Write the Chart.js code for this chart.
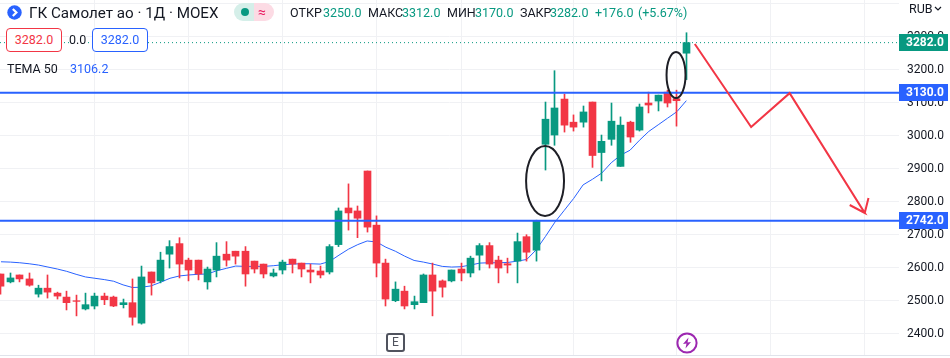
<!DOCTYPE html>
<html lang="ru">
<head>
    <meta charset="UTF-8">
    <title>ГК Самолет ао - MOEX</title>
    <script src="https://cdn.jsdelivr.net/npm/chart.js"></script>
    <style>
        html, body { margin: 0; padding: 0; background: #fff; }
        body { width: 950px; height: 358px; position: relative; overflow: hidden; font-family: Roboto, sans-serif; color: #131722; }
        #chart { position: absolute; left: 0; top: 0; }
        .t { position: absolute; white-space: nowrap; line-height: 16px; font-size: 12.5px; }
        .g { color: #089981; }
        .b { color: #2962ff; }
        .box { position: absolute; top: 28px; height: 22px; width: 54px; border: 1px solid; border-radius: 4px; background: #fff; text-align: center; line-height: 22px; font-size: 12.5px; }
        #bottomLine { position: absolute; left: 0; top: 355px; width: 950px; height: 1px; background: #e0e3eb; }
    </style>
</head>
<body>
    <canvas id="chart" width="950" height="358"></canvas>
    <div id="bottomLine"></div>

    <svg style="position:absolute;left:7px;top:5px" width="15" height="15" viewBox="0 0 15 15">
        <circle cx="7.5" cy="7.5" r="7.2" fill="#2962ff"/>
        <path d="M5.8 4 L9.4 7.5 L5.8 11" fill="none" stroke="#fff" stroke-width="2.2"/>
    </svg>
    <div class="t" style="left:29px;top:4px;font-size:15.2px;line-height:18px">ГК Самолет ао · 1Д · MOEX</div>

    <div style="position:absolute;left:234px;top:3px;width:20px;height:18px;background:#d5efe9;border-radius:9px 0 0 9px"></div>
    <div style="position:absolute;left:254px;top:3px;width:20px;height:18px;background:#fcdbe4;border-radius:0 9px 9px 0"></div>
    <div style="position:absolute;left:241px;top:8px;width:8px;height:8px;background:#089981;border-radius:50%"></div>
    <div class="t" style="left:258px;top:4px;color:#e91e63;font-size:14px">≈</div>

    <div class="t" style="left:290px;top:5px">ОТКР</div>
    <div class="t g" style="left:323px;top:5px">3250.0</div>
    <div class="t" style="left:368px;top:5px">МАКС</div>
    <div class="t g" style="left:402px;top:5px">3312.0</div>
    <div class="t" style="left:447px;top:5px">МИН</div>
    <div class="t g" style="left:475px;top:5px">3170.0</div>
    <div class="t" style="left:520px;top:5px">ЗАКР</div>
    <div class="t g" style="left:550px;top:5px">3282.0</div>
    <div class="t g" style="left:595px;top:5px">+176.0</div>
    <div class="t g" style="left:638px;top:5px">(+5.67%)</div>

    <div class="box" style="left:6px;border-color:#f23645;color:#f23645">3282.0</div>
    <div class="t" style="left:69px;top:32px;background:#fff">0.0</div>
    <div class="box" style="left:92px;border-color:#2962ff;color:#2962ff">3282.0</div>
    <div class="t" style="left:7px;top:61px">ТЕМА 50</div>
    <div class="t b" style="left:70px;top:61px">3106.2</div>

    <div class="t" style="left:909px;top:1px">RUB</div>
    <svg style="position:absolute;left:934px;top:6px" width="8" height="6" viewBox="0 0 8 6">
        <path d="M1 1 L4 4 L7 1" fill="none" stroke="#131722" stroke-width="1.2"/>
    </svg>

    <div style="position:absolute;left:386px;top:333px;width:15px;height:15px;border:2px solid #50535e;border-radius:3px;text-align:center;line-height:15px;font-size:12px;color:#50535e">E</div>
    <svg style="position:absolute;left:676px;top:332px" width="22" height="22" viewBox="0 0 22 22">
        <circle cx="11" cy="11" r="9.6" fill="none" stroke="#9c27b0" stroke-width="2"/>
        <path d="M12.5 5.5 L7 12 L10.5 11.6 L9.5 16.5 L15 10 L11.5 10.4 Z" fill="#9c27b0"/>
    </svg>

    <script>
        // bars of the daily chart, left to right
        const opens = [
            2581, 2557, 2578, 2566, 2520, 2538, 2523, 2511, 2500, 2475,
            2484, 2514, 2511, 2488, 2494, 2432, 2587, 2560, 2641, 2673,
            2623, 2623, 2557, 2593, 2641, 2650, 2650, 2620, 2611, 2575,
            2593, 2626, 2614, 2593, 2590, 2587, 2670, 2781, 2772, 2893,
            2729, 2614, 2500, 2529, 2488, 2494, 2578, 2560, 2560, 2596,
            2584, 2638, 2667, 2623, 2612, 2620, 2694, 2653, 2974, 3002,
            3111, 3041, 3041, 3102, 2949, 2989, 2907, 3041, 3017, 3099,
            3105, 3132, 3112, 3250
        ];
        const highs = [
            2581, 2584, 2578, 2584, 2547, 2578, 2526, 2529, 2517, 2523,
            2523, 2523, 2514, 2505, 2566, 2605, 2587, 2647, 2682, 2691,
            2629, 2623, 2602, 2676, 2679, 2650, 2664, 2620, 2611, 2596,
            2623, 2626, 2614, 2611, 2605, 2670, 2781, 2854, 2787, 2893,
            2757, 2626, 2557, 2544, 2514, 2581, 2614, 2563, 2593, 2614,
            2635, 2673, 2676, 2635, 2629, 2705, 2700, 2744, 3102, 3197,
            3126, 3063, 3090, 3102, 3002, 3099, 3057, 3044, 3096, 3132,
            3123, 3138, 3138, 3312
        ];
        const lows = [
            2520, 2554, 2557, 2544, 2511, 2508, 2505, 2472, 2454, 2472,
            2475, 2488, 2482, 2478, 2426, 2429, 2517, 2554, 2599, 2569,
            2560, 2563, 2535, 2572, 2605, 2611, 2544, 2584, 2569, 2572,
            2581, 2584, 2572, 2554, 2569, 2581, 2664, 2714, 2691, 2708,
            2572, 2484, 2497, 2475, 2475, 2494, 2454, 2511, 2557, 2560,
            2572, 2593, 2599, 2554, 2584, 2554, 2620, 2620, 2896, 2971,
            3011, 3014, 3026, 2904, 2863, 2971, 2907, 2980, 3014, 3069,
            3075, 3087, 3029, 3170
        ];
        const closes = [
            2544, 2569, 2566, 2547, 2538, 2526, 2514, 2494, 2498, 2488,
            2514, 2503, 2484, 2494, 2450, 2572, 2554, 2623, 2664, 2611,
            2593, 2581, 2596, 2635, 2623, 2635, 2581, 2596, 2581, 2584,
            2617, 2611, 2596, 2587, 2578, 2664, 2772, 2766, 2750, 2723,
            2614, 2505, 2535, 2484, 2497, 2578, 2529, 2541, 2593, 2584,
            2629, 2667, 2611, 2599, 2608, 2679, 2647, 2741, 3050, 3084,
            3032, 3026, 3072, 2940, 2983, 3044, 3032, 2996, 3087, 3093,
            3123, 3099, 3106, 3282
        ];
        const tema = [
            2618, 2617, 2615, 2612, 2608, 2602, 2596, 2589, 2580, 2572,
            2568, 2564, 2559, 2548, 2540, 2541, 2545, 2556, 2568, 2575,
            2578, 2580, 2581, 2591, 2598, 2605, 2604, 2604, 2604, 2606,
            2609, 2611, 2612, 2612, 2611, 2619, 2638, 2656, 2670, 2681,
            2678, 2662, 2650, 2635, 2622, 2617, 2611, 2604, 2602, 2603,
            2608, 2614, 2615, 2615, 2616, 2620, 2625, 2654, 2695, 2738,
            2774, 2810, 2851, 2868, 2887, 2918, 2941, 2956, 2986, 3013,
            3033, 3053, 3073, 3106.2
        ];

        const levels = [3130, 2742];
        const lastPrice = 3282;
        const priceTicks = [3300, 3200, 3100, 3000, 2900, 2800, 2700, 2600, 2500, 2400];
        const dateGridBars = [10, 20, 30, 40, 49, 61, 72, 82, 92];

        // hand drawn forecast: bar number and price of each vertex, then the arrow head
        const arrowBars = [73.9, 79.9, 84.0, 92.0, 90.4, 92.0, 92.4];
        const arrowPrices = [3278, 3026, 3129, 2766, 2790, 2766, 2811];

        // hand drawn ovals: centre and half size in bars and price
        const ovalBars = [57.95, 71.9];
        const ovalPrices = [2863, 3184];
        const ovalHalfBars = [2.02, 1.01];
        const ovalHalfPrices = [106, 70];

        const UP = '#089981';
        const DOWN = '#f23645';
        const BLUE = '#2962ff';
        const candleColors = closes.map((c, i) => (c >= opens[i] ? UP : DOWN));
        const X_MIN = -0.1065;
        const X_MAX = 95.65;

        const snapBars = {
            id: 'snapBars',
            beforeDatasetDraw(chart, args) {
                if (args.meta.type !== 'bar') return;
                args.meta.data.forEach(el => { el.x = Math.floor(el.x) + 0.5; });
            }
        };

        const ovals = {
            id: 'ovals',
            afterDatasetsDraw(chart) {
                const { ctx, scales: { x, y } } = chart;
                ctx.save();
                ctx.strokeStyle = '#1e1f26';
                ctx.lineWidth = 2;
                ovalBars.forEach((b, i) => {
                    const cx = x.getPixelForValue(b);
                    const cy = y.getPixelForValue(ovalPrices[i]);
                    const rx = Math.abs(x.getPixelForValue(b + ovalHalfBars[i]) - cx);
                    const ry = Math.abs(y.getPixelForValue(ovalPrices[i] + ovalHalfPrices[i]) - cy);
                    ctx.beginPath();
                    ctx.ellipse(cx, cy, rx, ry, 0, 0, Math.PI * 2);
                    ctx.stroke();
                });
                ctx.restore();
            }
        };

        const priceTags = {
            id: 'priceTags',
            afterDraw(chart) {
                const { ctx, scales: { y }, chartArea } = chart;
                const tag = (value, color) => {
                    const py = Math.floor(y.getPixelForValue(value));
                    ctx.fillStyle = color;
                    ctx.fillRect(chartArea.right, py - 8, 49, 17);
                    ctx.fillStyle = '#fff';
                    ctx.font = 'bold 12px Roboto';
                    ctx.textAlign = 'left';
                    ctx.textBaseline = 'middle';
                    ctx.fillText(value.toFixed(1), chartArea.right + 7, py + 1);
                };
                tag(lastPrice, UP);
                levels.forEach(l => tag(l, BLUE));
            }
        };

        const flat = value => [{ x: X_MIN, y: value }, { x: X_MAX, y: value }];

        new Chart(document.getElementById('chart'), {
            data: {
                datasets: [
                    {
                        type: 'bar', order: 3, grouped: false, barThickness: 1,
                        data: highs.map((h, i) => ({ x: i, y: [lows[i], h] })),
                        backgroundColor: candleColors
                    },
                    {
                        type: 'bar', order: 2, grouped: false, barThickness: 7,
                        data: opens.map((o, i) => ({ x: i, y: [o, closes[i]] })),
                        backgroundColor: candleColors
                    },
                    {
                        type: 'line', order: 4, label: 'TEMA 50',
                        data: tema.map((v, i) => ({ x: i, y: v })),
                        borderColor: BLUE, borderWidth: 1, pointRadius: 0
                    },
                    {
                        type: 'line', order: 5, data: flat(lastPrice),
                        borderColor: UP, borderWidth: 1, borderDash: [1, 3], pointRadius: 0
                    },
                    ...levels.map(l => ({
                        type: 'line', order: 1, data: flat(l),
                        borderColor: BLUE, borderWidth: 2, pointRadius: 0
                    })),
                    {
                        type: 'line', order: 0,
                        data: arrowBars.map((b, i) => ({ x: b, y: arrowPrices[i] })),
                        borderColor: DOWN, borderWidth: 2, pointRadius: 0
                    }
                ]
            },
            options: {
                responsive: false,
                animation: false,
                layout: { padding: { bottom: 3 } },
                plugins: { legend: { display: false }, tooltip: { enabled: false } },
                scales: {
                    x: {
                        type: 'linear', min: X_MIN, max: X_MAX,
                        offset: false,
                        afterBuildTicks: scale => { scale.ticks = dateGridBars.map(v => ({ value: v })); },
                        afterFit: scale => { scale.height = 0; },
                        ticks: { display: false },
                        grid: { color: '#f0f1f4', drawTicks: false, offset: false },
                        border: { display: false }
                    },
                    y: {
                        position: 'right',
                        min: 2335.5, max: 3411.2,
                        afterBuildTicks: scale => { scale.ticks = [3400, ...priceTicks].map(v => ({ value: v })); },
                        afterFit: scale => {
                            scale.width = 51;
                            scale.paddingTop = 0;
                            scale.paddingBottom = 0;
                            scale._margins.top = 0;
                            scale._margins.bottom = 0;
                        },
                        ticks: {
                            color: '#131722', padding: 8,
                            font: { family: 'Roboto', size: 12 },
                            callback: v => (priceTicks.includes(v) ? v.toFixed(1) : '')
                        },
                        grid: { color: '#f0f1f4', drawTicks: false },
                        border: { display: false }
                    }
                }
            },
            plugins: [snapBars, ovals, priceTags]
        });
    </script>
</body>
</html>
